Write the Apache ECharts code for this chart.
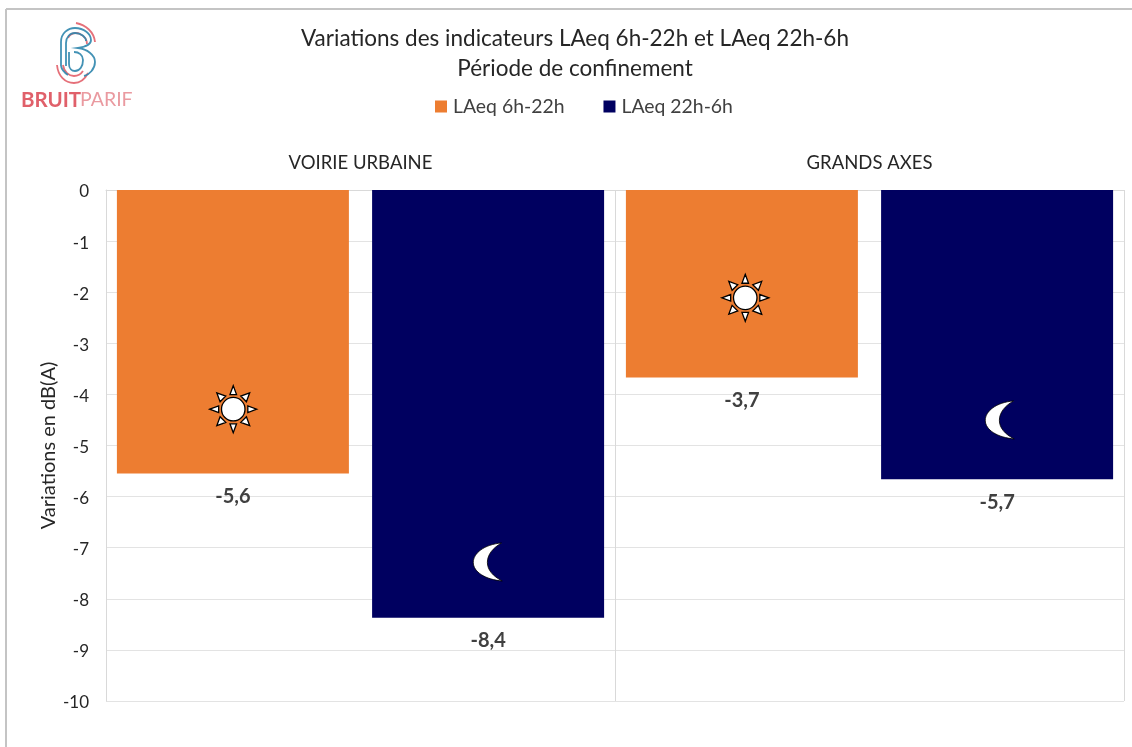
<!DOCTYPE html>
<html><head><meta charset="utf-8">
<style>html,body{margin:0;padding:0;background:#fff}#c{width:1132px;height:747px}</style>
<script src="https://cdn.jsdelivr.net/npm/echarts@6/dist/echarts.min.js"></script>
</head><body><div id="c"></div>
<script>
const categories = ['VOIRIE URBAINE', 'GRANDS AXES'];
const seriesDay = [-5.55, -3.67];
const seriesNight = [-8.37, -5.66];
const dayName = 'LAeq 6h-22h';
const nightName = 'LAeq 22h-6h';
const yTicks = {min: -10, max: 0, interval: 1};
const iconSlots = ['a', 'b', 'c', 'd'];
const sunPoints = [['a', -4.29], ['c', -2.11]];
const moonPoints = [['b', -7.28], ['d', -4.5]];
const FONT = 'Lato';

const sunPath = 'path://M50 25A25 25 0 1 1 49.99 25ZM50 0L57 19L43 19ZM50 100L43 81L57 81ZM0 50L19 43L19 57ZM100 50L81 57L81 43ZM15 15L34 22L22 34ZM85 85L66 78L78 66ZM85 15L78 34L66 22ZM15 85L22 66L34 78Z';
const moonPath = 'path://M78 0C30 4 0 30 0 56C0 84 34 106 80 110C54 96 39 78 39 56C39 34 54 14 78 0Z';

const logoRed = [
  'M76 23 C86 25 94 32 95 42',
  'M68 38 C70 33 76 32 80 34 C84 36 87 39 87 44',
  'M57 65 C58 76 65 83 74 83 C80 83 85 79 88 73',
  'M63 65 C64 72 69 76 74 76 C78 76 81 74 83 71'
];
const logoBlue = [
  'M61 66 L61 42 C61 33 68 28 75 28 C84 28 91 34 91 40 C91 45 85 47 78 48 C87 49 95 55 95 62 C95 69 89 75 84 76',
  'M66 66 L66 43 C66 37 70 33 75 33 C81 33 86 37 86 41',
  'M61 66 C62 71 65 73 68 75 M69 52 L69 64 C69 69 72 71 75 71 C80 71 83 66 83 60 C83 55 79 52 74 52'
];
function logoShape(d, i, color) {
  const name = 'logo' + color.slice(1) + i;
  echarts.graphic.registerShape(name, echarts.graphic.extendPath(d, {}));
  return {type: name, silent: true, style: {fill: 'none', stroke: color, lineWidth: 1.8, opacity: 0.9}};
}
const labelFmt = p => (-Math.round(-p.value * 10) / 10).toFixed(1).replace('.', ',');
const barLabel = {show: true, position: 'bottom', distance: 13, fontFamily: FONT, fontSize: 20, fontWeight: 'bold', color: '#404040', formatter: labelFmt};

const chart = echarts.init(document.getElementById('c'), null, {renderer: 'canvas'});
chart.setOption({
  animation: false,
  backgroundColor: '#ffffff',
  textStyle: {fontFamily: FONT},
  title: {
    text: 'Variations des indicateurs LAeq 6h-22h et LAeq 22h-6h\nPériode de confinement',
    left: 570, top: 19, textAlign: 'center',
    textStyle: {fontFamily: FONT, fontSize: 22.5, fontWeight: 'normal', color: '#262626', lineHeight: 30}
  },
  legend: {
    data: [dayName, nightName],
    top: 92, left: 430, itemWidth: 12, itemHeight: 12, itemGap: 39, icon: 'rect',
    textStyle: {fontFamily: FONT, fontSize: 19.4, color: '#404040', padding: [0, 0, 0, 1]}
  },
  grid: {left: 106, right: 8, top: 190, bottom: 46},
  xAxis: [
    {type: 'category', data: categories, position: 'top',
     axisLine: {show: true, onZero: false, lineStyle: {color: '#d9d9d9'}},
     axisTick: {show: false},
     axisLabel: {color: '#262626', fontSize: 18.5, margin: 17, fontFamily: FONT},
     splitLine: {show: true, lineStyle: {color: '#d9d9d9', width: 1}}},
    {type: 'category', data: iconSlots, show: false, position: 'top'}
  ],
  yAxis: {
    type: 'value', min: yTicks.min, max: yTicks.max, interval: yTicks.interval,
    name: 'Variations en dB(A)', nameLocation: 'middle', nameGap: 47, nameRotate: 90, nameMoveOverlap: false,
    nameTextStyle: {color: '#262626', fontSize: 20, fontFamily: FONT},
    axisLine: {show: true, lineStyle: {color: '#d9d9d9'}},
    axisTick: {show: false},
    axisLabel: {color: '#262626', fontSize: 17, margin: 17, fontFamily: FONT, verticalAlign: 'top', lineHeight: 4},
    splitLine: {show: true, lineStyle: {color: '#e3e3e3', width: 1}}
  },
  series: [
    {name: dayName, type: 'bar', data: seriesDay, barWidth: 232, barGap: '10%', itemStyle: {color: '#ed7d31'}, label: barLabel},
    {name: nightName, type: 'bar', data: seriesNight, barWidth: 232, barGap: '10%', itemStyle: {color: '#000060'}, label: barLabel},
    {type: 'scatter', xAxisIndex: 1, data: [
        {value: sunPoints[0]},
        {value: sunPoints[1], symbolOffset: [3, 0]}
      ], symbol: sunPath, symbolSize: 47, silent: true, z: 5,
     itemStyle: {color: '#ffffff', borderColor: '#000000', borderWidth: 1.3, opacity: 1}},
    {type: 'scatter', xAxisIndex: 1, data: [
        {value: moonPoints[0]},
        {value: moonPoints[1], symbolOffset: [3, 0]}
      ], symbol: moonPath, symbolSize: [29, 38], silent: true, z: 5,
     itemStyle: {color: '#ffffff', borderColor: '#000000', borderWidth: 0.8, opacity: 1}}
  ],
  graphic: [
    {type: 'line', shape: {x1: 6, y1: 9, x2: 1132, y2: 9}, style: {stroke: '#c4c4c4', lineWidth: 2}, silent: true},
    {type: 'line', shape: {x1: 6, y1: 9, x2: 6, y2: 747}, style: {stroke: '#c4c4c4', lineWidth: 2}, silent: true},
    ...logoRed.map((d, i) => logoShape(d, i, '#e2616a')),
    ...logoBlue.map((d, i) => logoShape(d, i, '#2f86ad')),
    {type: 'text', left: 21, top: 90, silent: true, style: {text: 'BRUIT', fontFamily: FONT, fontSize: 20.5, fontWeight: 'bold', fill: '#e0606a'}},
    {type: 'text', left: 80, top: 90, silent: true, style: {text: 'PARIF', fontFamily: FONT, fontSize: 19.5, fontWeight: 'normal', fill: '#ea9aa0'}}
  ]
});
</script></body></html>
